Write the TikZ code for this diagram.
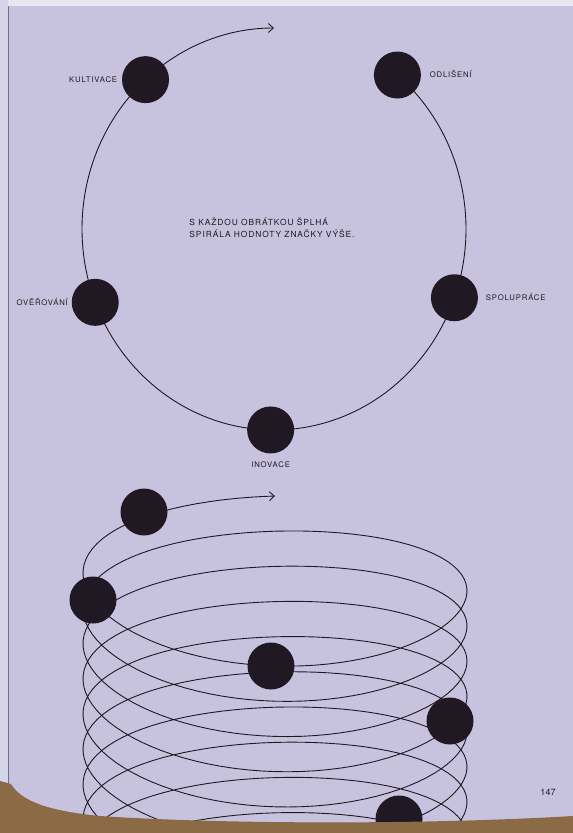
\documentclass[tikz,border=0pt]{standalone}
\usepackage{fontspec}
\newfontfamily\capsfont[LetterSpace=11]{TeX Gyre Heros}
\newfontfamily\folioface{TeX Gyre Heros}
\usetikzlibrary{arrows.meta}
\usetikzlibrary{positioning}
\definecolor{paper}{RGB}{199,195,222}
\definecolor{glare}{RGB}{232,230,240}
\definecolor{gutter}{RGB}{214,212,232}
\definecolor{gutterline}{RGB}{112,110,142}
\definecolor{ink}{RGB}{32,24,34}
\definecolor{tabletop}{RGB}{139,106,70}
\tikzset{blob/.style = {fill=ink, circle, inner sep = 0, minimum size = 47}}
\tikzset{tag/.style = {font=\capsfont\fontsize{7.7}{9}\selectfont, text=ink, inner sep = 0,
                       text height = 5.5pt, text depth = 0pt}}
\tikzset{motto/.style = {font=\capsfont\fontsize{8.4}{12}\selectfont, text=ink, inner sep = 0,
                         align = left}}
\tikzset{>={Straight Barb[length=5pt, width=9pt]}}

\begin{document}
\begin{tikzpicture}[x=1pt, y=-1pt, line width=0.9pt]
  \clip (0,0) rectangle (573,833);
  \useasboundingbox (0,0) rectangle (573,833);
  \fill[paper] (0,0) rectangle (573,833);
  \fill[glare] (0,0) rectangle (573,6);
  \fill[gutter] (0,0) rectangle (8,790);
  \draw[gutterline, line width=1.5pt] (8.5,6) -- (8.5,790);
  \begin{scope}[shift={(274,229)}]
    \draw[ink, ->] (-50:192 and 201) arc[start angle=-50, end angle=270, x radius=192, y radius=201];
    \node[blob] (odliseni) at (-50:192 and 201) {};
    \node[blob] (spoluprace) at (20:192 and 201) {};
    \node[blob] (inovace) at (91:192 and 201) {};
    \node[blob] (overovani) at (158.6:192 and 201) {};
    \node[blob] (kultivace) at (228:192 and 201) {};
  \end{scope}
  \node[tag, left=4pt of kultivace] {KULTIVACE};
  \node[tag, right=8pt of odliseni] {ODLIŠENÍ};
  \node[tag, right=7pt of spoluprace] {SPOLUPRÁCE};
  \node[tag, left=3pt of overovani] {OVĚŘOVÁNÍ};
  \node[tag, below=8pt of inovace] {INOVACE};
  \node[motto, anchor=west] (motto) at (189,228) {S KAŽDOU OBRÁTKOU ŠPLHÁ\\SPIRÁLA HODNOTY ZNAČKY VÝŠE.};
  \draw[ink, ->] plot[domain=-3420:180, samples=901, variable=\t]
    ({275-192*sin(\t)}, {582-35.2*\t/360+76.2*cos(\t)+7.8*cos(\t)*cos(\t)});
  \node[blob] (helixtop) at (144,512) {};
  \node[blob] (helixleft) at (93,600) {};
  \node[blob] (helixmid) at (271,666) {};
  \node[blob] (helixright) at (450,721) {};
  \node[blob] (helixlow) at (399,819) {};
  \node[font=\folioface\fontsize{9}{10}\selectfont, text=ink, inner sep=0] (folio) at (548,792) {147};
  \fill[tabletop] (0,781) -- (11,784) .. controls (22,802) and (50,811) .. (100,816)
    .. controls (220,824) and (420,825) .. (573,816) -- (573,833) -- (0,833) -- cycle;
\end{tikzpicture}
\end{document}
